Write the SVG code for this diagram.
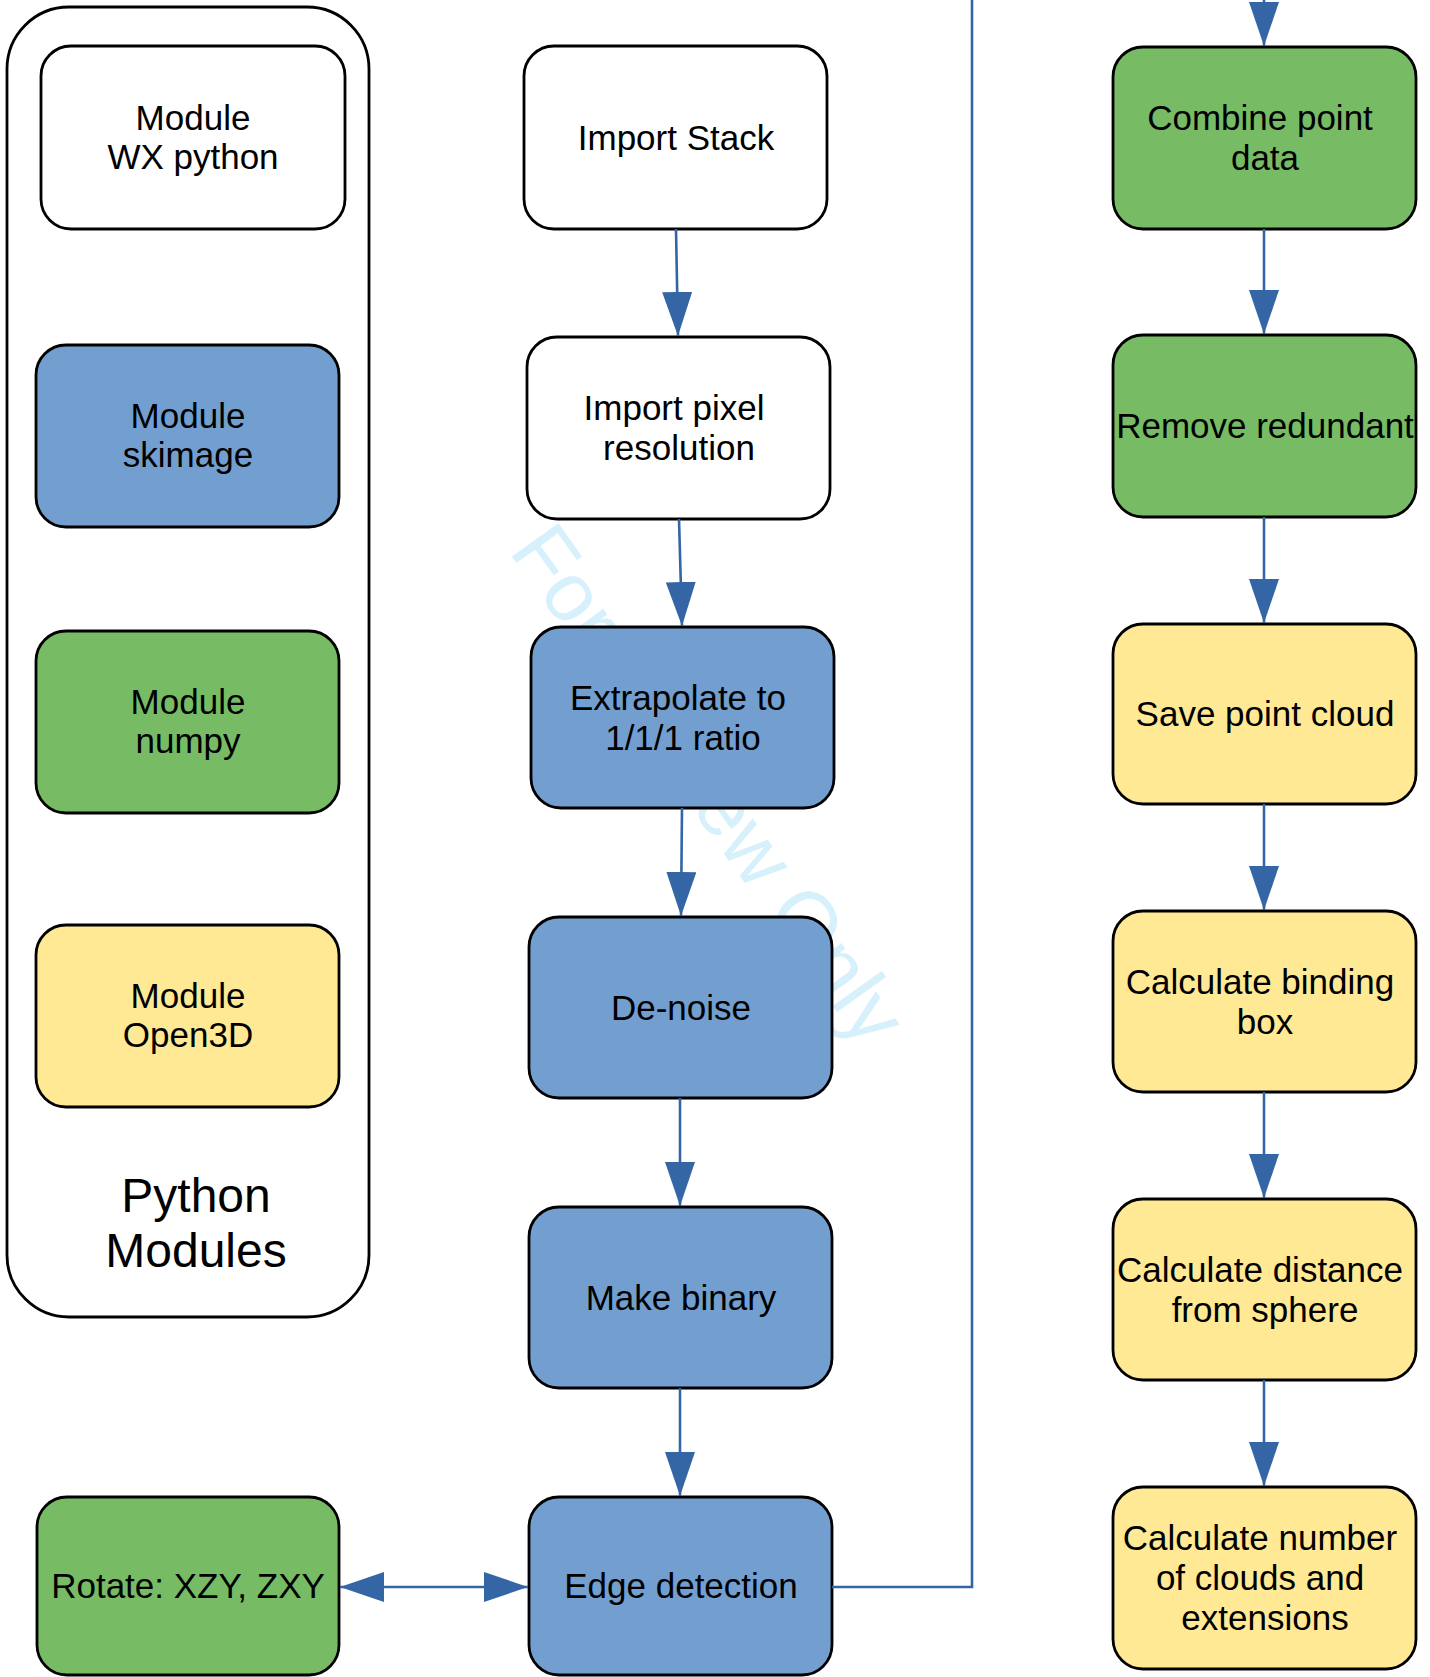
<svg xmlns="http://www.w3.org/2000/svg" width="1430" height="1677" viewBox="0 0 1430 1677">
<defs>
<style>
.box{stroke:#000;stroke-width:2.8}
.w{fill:#fff}.b{fill:#729fcf}.g{fill:#77bc65}.y{fill:#ffe994}
.t{font-family:"Liberation Sans",Arial,sans-serif;font-size:35px;fill:#000;text-anchor:middle}
.big{font-size:48px}
.con{fill:none;stroke:#3465a4;stroke-width:2.6}
.wm{font-family:"Liberation Sans",Arial,sans-serif;font-size:83px;fill:#d6f0fc}
</style>
<marker id="ah" viewBox="0 0 44 30" refX="44" refY="15" markerWidth="44" markerHeight="30" markerUnits="userSpaceOnUse" orient="auto-start-reverse">
<path d="M0,0 L44,15 L0,30 z" fill="#3465a4"/>
</marker>
</defs>
<rect width="1430" height="1677" fill="#fff"/>
<text class="wm" transform="translate(508,551) rotate(54.5)">For Review Only</text>

<g id="python-modules">
<rect class="box" x="7" y="7" width="362" height="1310" rx="62" fill="none"/>
<text class="t big" x="196" y="1212">Python</text>
<text class="t big" x="196" y="1267">Modules</text>
</g>
<g id="wx"><rect class="box w" x="41" y="46" width="304" height="183" rx="30"/>
<text class="t" x="193" y="130">Module</text><text class="t" x="193" y="169">WX python</text></g>
<g id="skimage"><rect class="box b" x="36" y="345" width="303" height="182" rx="30"/>
<text class="t" x="188" y="428">Module</text><text class="t" x="188" y="467">skimage</text></g>
<g id="numpy"><rect class="box g" x="36" y="631" width="303" height="182" rx="30"/>
<text class="t" x="188" y="714">Module</text><text class="t" x="188" y="753">numpy</text></g>
<g id="open3d"><rect class="box y" x="36" y="925" width="303" height="182" rx="30"/>
<text class="t" x="188" y="1008">Module</text><text class="t" x="188" y="1047">Open3D</text></g>
<g id="rotate"><rect class="box g" x="37" y="1497" width="302" height="178" rx="30"/>
<text class="t" x="188" y="1598">Rotate: XZY, ZXY</text></g>

<g id="import-stack"><rect class="box w" x="524" y="46" width="303" height="183" rx="30"/>
<text class="t" x="676" y="150">Import Stack</text></g>
<g id="import-pixel"><rect class="box w" x="527" y="337" width="303" height="182" rx="30"/>
<text class="t" x="674" y="420">Import pixel</text><text class="t" x="679" y="460">resolution</text></g>
<g id="extrapolate"><rect class="box b" x="531" y="627" width="303" height="181" rx="30"/>
<text class="t" x="678" y="710">Extrapolate to</text><text class="t" x="683" y="750">1/1/1 ratio</text></g>
<g id="denoise"><rect class="box b" x="529" y="917" width="303" height="181" rx="30"/>
<text class="t" x="681" y="1020">De-noise</text></g>
<g id="make-binary"><rect class="box b" x="529" y="1207" width="303" height="181" rx="30"/>
<text class="t" x="681" y="1310">Make binary</text></g>
<g id="edge"><rect class="box b" x="529" y="1497" width="303" height="178" rx="30"/>
<text class="t" x="681" y="1598">Edge detection</text></g>

<g id="combine"><rect class="box g" x="1113" y="47" width="303" height="182" rx="30"/>
<text class="t" x="1260" y="130">Combine point</text><text class="t" x="1265" y="170">data</text></g>
<g id="remove"><rect class="box g" x="1113" y="335" width="303" height="182" rx="30"/>
<text class="t" x="1265" y="438">Remove redundant</text></g>
<g id="save"><rect class="box y" x="1113" y="624" width="303" height="180" rx="30"/>
<text class="t" x="1265" y="726">Save point cloud</text></g>
<g id="binding"><rect class="box y" x="1113" y="911" width="303" height="181" rx="30"/>
<text class="t" x="1260" y="994">Calculate binding</text><text class="t" x="1265" y="1034">box</text></g>
<g id="distance"><rect class="box y" x="1113" y="1199" width="303" height="181" rx="30"/>
<text class="t" x="1260" y="1282">Calculate distance</text><text class="t" x="1265" y="1322">from sphere</text></g>
<g id="number"><rect class="box y" x="1113" y="1487" width="303" height="182" rx="30"/>
<text class="t" x="1260" y="1550">Calculate number</text><text class="t" x="1260" y="1590">of clouds and</text><text class="t" x="1265" y="1630">extensions</text></g>

<g id="connectors">
<path class="con" d="M676,229 L678,336" marker-end="url(#ah)"/>
<path class="con" d="M679,519 L682,626" marker-end="url(#ah)"/>
<path class="con" d="M682,808 L681,916" marker-end="url(#ah)"/>
<path class="con" d="M680,1098 L680,1206" marker-end="url(#ah)"/>
<path class="con" d="M680,1388 L680,1496" marker-end="url(#ah)"/>
<path class="con" d="M340,1587 L528,1587" marker-start="url(#ah)" marker-end="url(#ah)"/>
<path class="con" d="M832,1587 L972,1587 L972,0"/>
<path class="con" d="M1264,0 L1264,46" marker-end="url(#ah)"/>
<path class="con" d="M1264,229 L1264,334" marker-end="url(#ah)"/>
<path class="con" d="M1264,517 L1264,623" marker-end="url(#ah)"/>
<path class="con" d="M1264,804 L1264,910" marker-end="url(#ah)"/>
<path class="con" d="M1264,1092 L1264,1198" marker-end="url(#ah)"/>
<path class="con" d="M1264,1380 L1264,1486" marker-end="url(#ah)"/>
</g>
</svg>
